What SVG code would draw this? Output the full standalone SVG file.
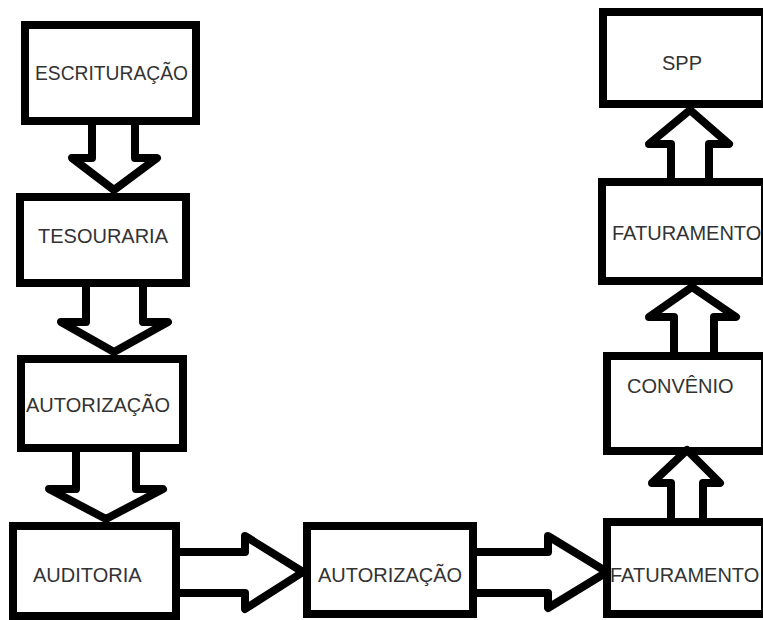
<svg xmlns="http://www.w3.org/2000/svg" width="763" height="620" viewBox="0 0 763 620">
<style>
.box{fill:#fff;stroke:#000;stroke-width:8;stroke-linejoin:miter}
.lbl{font-family:"Liberation Sans",Arial,sans-serif;font-size:20px;fill:#333}
.arr{fill:#fff;stroke:#000;stroke-width:8;stroke-linejoin:round}
</style>
<rect width="763" height="620" fill="#fff"/>
<g id="escrituracao"><rect class="box" x="25" y="25" width="171" height="96"/><text class="lbl" x="35" y="80" textLength="153" lengthAdjust="spacingAndGlyphs">ESCRITURAÇÃO</text></g>
<g id="tesouraria"><rect class="box" x="20" y="197" width="166" height="86"/><text class="lbl" x="38" y="243">TESOURARIA</text></g>
<g id="autorizacao1"><rect class="box" x="21" y="359" width="162" height="89"/><text class="lbl" x="26" y="412">AUTORIZAÇÃO</text></g>
<g id="auditoria"><rect class="box" x="13" y="526" width="163" height="90"/><text class="lbl" x="33" y="582">AUDITORIA</text></g>
<g id="autorizacao2"><rect class="box" x="307" y="526" width="166" height="88"/><text class="lbl" x="318" y="582">AUTORIZAÇÃO</text></g>
<g id="faturamento1"><rect class="box" x="607" y="522" width="158" height="92"/><text class="lbl" x="610" y="582">FATURAMENTO</text></g>
<g id="convenio"><rect class="box" x="607" y="356" width="158" height="95"/><text class="lbl" x="627" y="393">CONVÊNIO</text></g>
<g id="faturamento2"><rect class="box" x="602" y="182" width="163" height="99"/><text class="lbl" x="612" y="240">FATURAMENTO</text></g>
<g id="spp"><rect class="box" x="603" y="12" width="162" height="92"/><text class="lbl" x="662" y="70">SPP</text></g>
<g id="connectors">
<path class="arr" d="M92,125 V158 H72 L114,190 L157,158 H135 V125"/>
<path class="arr" d="M86,287 V322 H61 L114,352 L168,322 H143 V287"/>
<path class="arr" d="M76,452 V489 H49 L106,519 L163,489 H136 V452"/>
<path class="arr" d="M180,552 H245 V536 L303,572 L245,609 V593 H180"/>
<path class="arr" d="M477,552 H548 V536 L607,572 L548,608 V593 H477"/>
<path class="arr" d="M671,518 V483 H652 L687,450 L720,483 H703 V518"/>
<path class="arr" d="M674,352 V317 H649 L692,287 L736,317 H714 V352"/>
<path class="arr" d="M671,178 V144 H649 L690,110 L729,144 H709 V178"/>
</g>
</svg>
